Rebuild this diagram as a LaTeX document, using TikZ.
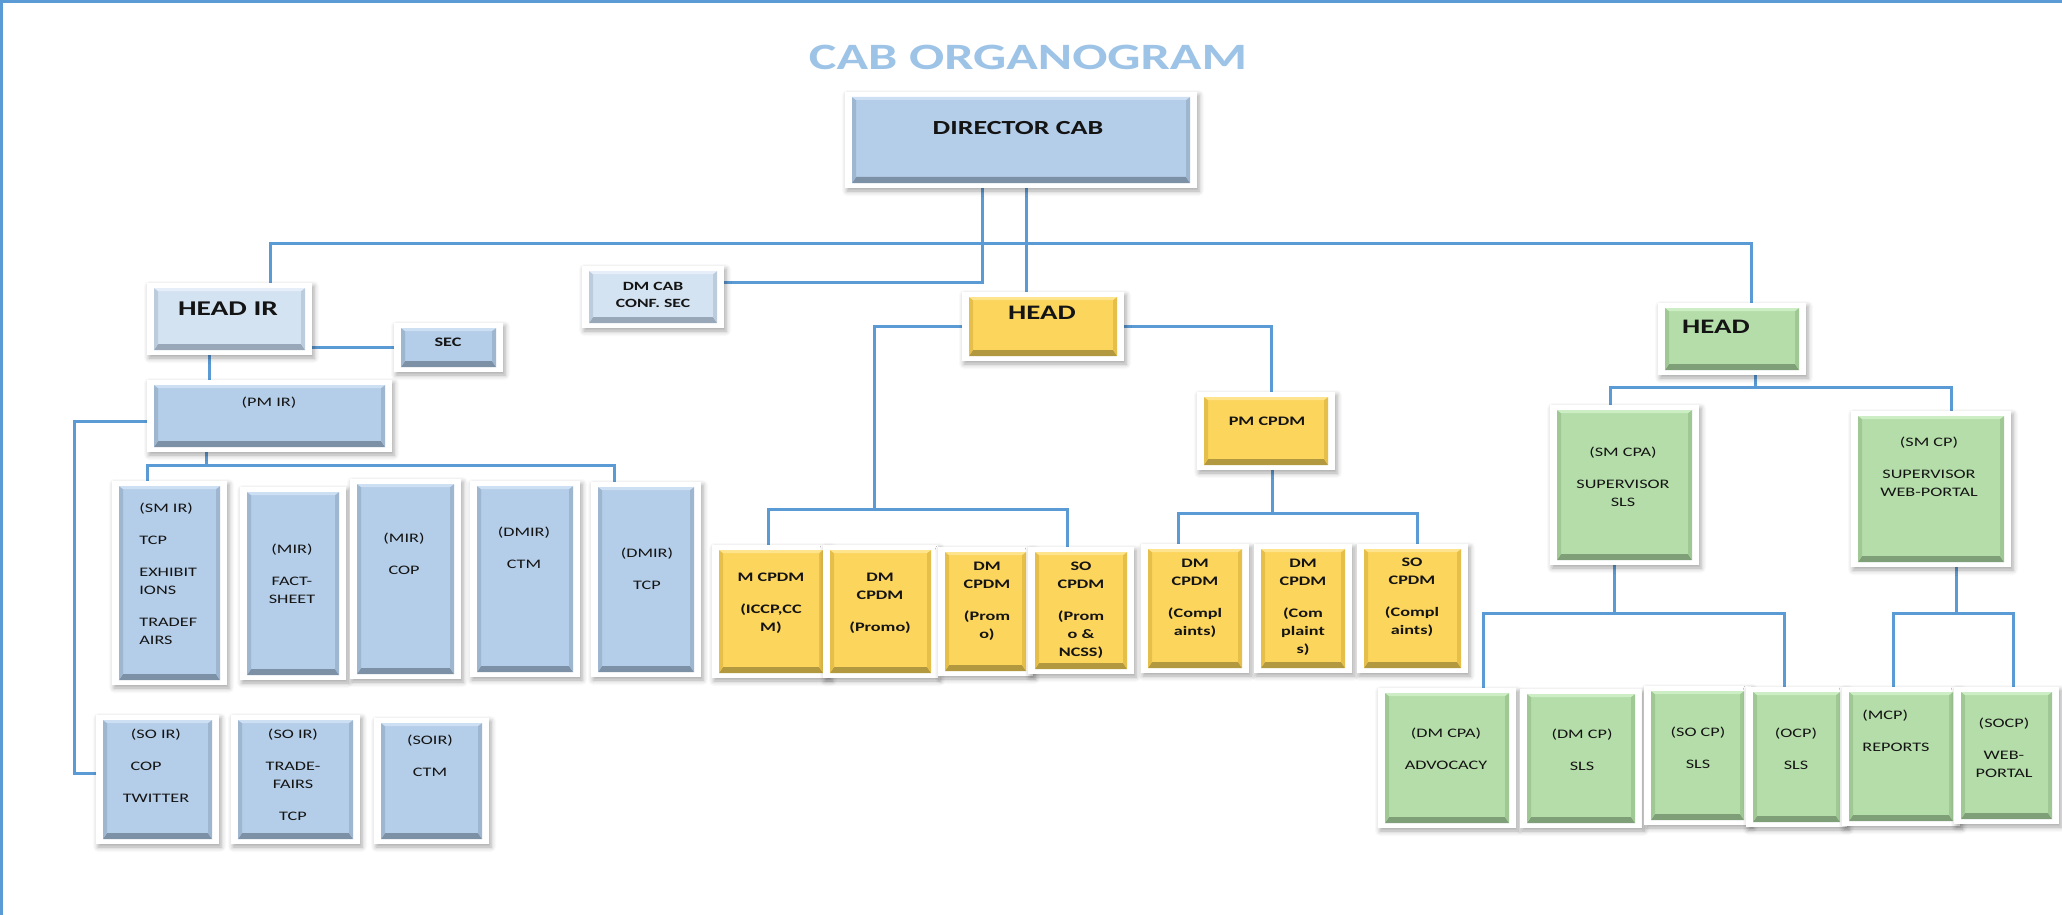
\documentclass[tikz,border=0pt]{standalone}
\usepackage{fontspec}
\setmainfont[FakeStretch=1.4]{Carlito}
\usetikzlibrary{shadows.blur}
\pgfdeclarelayer{bg}
\pgfsetlayers{bg,main}
\definecolor{conncol}{HTML}{5B9BD5}
\definecolor{titlecol}{HTML}{9DC3E6}
\definecolor{txtcol}{HTML}{141414}
\definecolor{bF}{HTML}{B4CDE8}\definecolor{bD}{HTML}{7D91A6}\definecolor{bS}{HTML}{9EB6CF}\definecolor{bL}{HTML}{CCDFF3}
\definecolor{lF}{HTML}{D4E3F2}\definecolor{lD}{HTML}{98A8B8}\definecolor{lS}{HTML}{BCCCDC}\definecolor{lL}{HTML}{E6EFF9}
\definecolor{yF}{HTML}{FCD55D}\definecolor{yD}{HTML}{B2983F}\definecolor{yS}{HTML}{E6BE4A}\definecolor{yL}{HTML}{FFE48E}
\definecolor{gF}{HTML}{B4DDA9}\definecolor{gD}{HTML}{7F9F78}\definecolor{gS}{HTML}{9FC895}\definecolor{gL}{HTML}{CDEEC4}
\newcommand\frst{\rule{0pt}{5pt}}
\newcommand\obox[6]{%
  \path[frame] ({#2-7},{#3-5}) rectangle ({#4+7},{#5+5});
  \node[#6, minimum width={(#4-#2)*0.5pt}, minimum height={(#5-#3)*0.5pt}] (#1) at ({(#2+#4)/2},{(#3+#5)/2}) {};
}
\tikzset{
  conn/.style={draw=conncol, line width=1.5pt},
  frame/.style={fill=white, blur shadow={shadow xshift=1pt, shadow yshift=-1.5pt, shadow blur radius=2.5pt, shadow opacity=35}},
  bevel/.style n args={3}{path picture={
    \fill[#1] (path picture bounding box.south west) -- (path picture bounding box.south east) -- ([xshift=-2pt,yshift=3pt]path picture bounding box.south east) -- ([xshift=2pt,yshift=3pt]path picture bounding box.south west) -- cycle;
    \fill[#2] (path picture bounding box.south west) -- ([xshift=2pt,yshift=3pt]path picture bounding box.south west) -- ([xshift=2pt,yshift=-1.5pt]path picture bounding box.north west) -- (path picture bounding box.north west) -- cycle;
    \fill[#2] (path picture bounding box.south east) -- ([xshift=-2pt,yshift=3pt]path picture bounding box.south east) -- ([xshift=-2pt,yshift=-1.5pt]path picture bounding box.north east) -- (path picture bounding box.north east) -- cycle;
    \fill[#3] (path picture bounding box.north west) -- (path picture bounding box.north east) -- ([xshift=-2pt,yshift=-1.5pt]path picture bounding box.north east) -- ([xshift=2pt,yshift=-1.5pt]path picture bounding box.north west) -- cycle;
  }},
  basebox/.style={rectangle, inner sep=0pt, outer sep=0pt},
  bluebox/.style={basebox, fill=bF, bevel={bD}{bS}{bL}},
  lbluebox/.style={basebox, fill=lF, bevel={lD}{lS}{lL}},
  yelbox/.style={basebox, fill=yF, bevel={yD}{yS}{yL}},
  grnbox/.style={basebox, fill=gF, bevel={gD}{gS}{gL}},
  stxt/.style={inner sep=0pt, align=center, anchor=north, text=txtcol, font=\fontsize{6.5}{9}\selectfont},
  sbtxt/.style={stxt, font=\fontsize{6.5}{9}\selectfont\bfseries},
  bigtxt/.style={inner sep=0pt, text=txtcol, font=\fontsize{10.3}{12}\selectfont\bfseries},
}
\begin{document}
\begin{tikzpicture}[x=0.5pt,y=-0.5pt]
\useasboundingbox (0,0) rectangle (2062,915);
\node[inner sep=0pt, text=titlecol, font=\fontsize{18.6}{22}\selectfont\bfseries] (title) at (1028,57) {CAB ORGANOGRAM};

% --- top
\obox{dir}{852}{97}{1190}{183}{bluebox}
\node[bigtxt, font=\fontsize{10}{12}\selectfont\bfseries] (tdir) at (1018,128) {DIRECTOR CAB};
\obox{dmcab}{589}{271}{717}{323}{lbluebox}
\node[sbtxt, font=\fontsize{6.3}{8.5}\selectfont\bfseries] (tdmcab) at (653,280) {\frst DM CAB\\CONF. SEC};

% --- IR (blue)
\obox{hir}{154}{288}{305}{350}{lbluebox}
\node[bigtxt, font=\fontsize{10.5}{12}\selectfont\bfseries] (thir) at (228,309) {HEAD IR};
\obox{sec}{401}{328}{496}{367}{bluebox}
\node[sbtxt] (tsec) at (448,336) {\frst SEC};
\obox{pmir}{154}{385}{385}{447}{bluebox}
\node[stxt] (tpmir) at (269,396) {\frst(PM IR)};

\obox{smir}{119}{486}{220}{680}{bluebox}
\node[stxt, align=left, anchor=north west] (tsmir) at (139,502) {\frst(SM IR)\\[7pt]TCP\\[7pt]EXHIBIT\\IONS\\[7pt]TRADEF\\AIRS};
\obox{mira}{247}{492}{339}{675}{bluebox}
\node[stxt] (tmira) at (292,543) {\frst(MIR)\\[7pt]FACT-\\SHEET};
\obox{mirb}{357}{484}{454}{674}{bluebox}
\node[stxt] (tmirb) at (404,532) {\frst(MIR)\\[7pt]COP};
\obox{dmira}{477}{486}{573}{672}{bluebox}
\node[stxt] (tdmira) at (524,526) {\frst(DMIR)\\[7pt]CTM};
\obox{dmirb}{598}{487}{694}{672}{bluebox}
\node[stxt] (tdmirb) at (647,547) {\frst(DMIR)\\[7pt]TCP};

\obox{soira}{103}{720}{212}{839}{bluebox}
\node[stxt] (tsoira) at (156,728) {\frst(SO IR)\\[7pt]COP\kern10pt\\[7pt]TWITTER};
\obox{soirb}{238}{720}{353}{839}{bluebox}
\node[stxt] (tsoirb) at (293,728) {\frst(SO IR)\\[7pt]TRADE-\\FAIRS\\[7pt]TCP};
\obox{soirc}{381}{723}{482}{839}{bluebox}
\node[stxt] (tsoirc) at (430,734) {\frst(SOIR)\\[7pt]CTM};

% --- CPDM (yellow)
\obox{yhead}{969}{297}{1117}{356}{yelbox}
\node[bigtxt] (tyhead) at (1042,313) {HEAD};
\obox{pmcpdm}{1204}{397}{1328}{465}{yelbox}
\node[sbtxt] (tpmcpdm) at (1267,415) {\frst PM CPDM};

\obox{ya}{719}{550}{823}{673}{yelbox}
\node[sbtxt] (tya) at (771,571) {\frst M CPDM\\[7pt](ICCP,CC\\M)};
\obox{yb}{830}{550}{931}{673}{yelbox}
\node[sbtxt] (tyb) at (880,571) {\frst DM\\CPDM\\[7pt](Promo)};
\obox{yc}{945}{552}{1026}{671}{yelbox}
\node[sbtxt] (tyc) at (987,560) {\frst DM\\CPDM\\[7pt](Prom\\o)};
\obox{yd}{1035}{552}{1127}{669}{yelbox}
\node[sbtxt] (tyd) at (1081,560) {\frst SO\\CPDM\\[7pt](Prom\\o \&\\NCSS)};
\obox{ye}{1148}{549}{1242}{668}{yelbox}
\node[sbtxt] (tye) at (1195,557) {\frst DM\\CPDM\\[7pt](Compl\\aints)};
\obox{yf}{1261}{549}{1345}{668}{yelbox}
\node[sbtxt] (tyf) at (1303,557) {\frst DM\\CPDM\\[7pt](Com\\plaint\\s)};
\obox{yg}{1364}{549}{1461}{668}{yelbox}
\node[sbtxt] (tyg) at (1412,556) {\frst SO\\CPDM\\[7pt](Compl\\aints)};

% --- CP (green)
\obox{ghead}{1665}{308}{1799}{370}{grnbox}
\node[bigtxt] (tghead) at (1716,327) {HEAD};
\obox{smcpa}{1557}{410}{1692}{560}{grnbox}
\node[stxt] (tsmcpa) at (1623,446) {\frst(SM CPA)\\[7pt]SUPERVISOR\\SLS};
\obox{smcp}{1858}{416}{2004}{562}{grnbox}
\node[stxt] (tsmcp) at (1929,436) {\frst(SM CP)\\[7pt]SUPERVISOR\\WEB-PORTAL};

\obox{ga}{1385}{693}{1509}{823}{grnbox}
\node[stxt] (tga) at (1446,727) {\frst(DM CPA)\\[7pt]ADVOCACY};
\obox{gb}{1527}{694}{1635}{823}{grnbox}
\node[stxt] (tgb) at (1582,728) {\frst(DM CP)\\[7pt]SLS};
\obox{gc}{1651}{691}{1744}{820}{grnbox}
\node[stxt] (tgc) at (1698,726) {\frst(SO CP)\\[7pt]SLS};
\obox{gd}{1753}{692}{1840}{822}{grnbox}
\node[stxt] (tgd) at (1796,727) {\frst(OCP)\\[7pt]SLS};
\obox{ge}{1849}{692}{1953}{821}{grnbox}
\node[stxt, align=left, anchor=north west] (tge) at (1862,709) {\frst(MCP)\\[7pt]REPORTS};
\obox{gf}{1961}{692}{2052}{819}{grnbox}
\node[stxt] (tgf) at (2004,717) {\frst(SOCP)\\[7pt]WEB-\\PORTAL};

% --- connectors
\begin{pgfonlayer}{bg}
\draw[conn] (dir.south -| 982,0) |- ([yshift=7.5pt]dmcab.east);
\draw[conn] (dir.south -| 1026,0) -- (yhead.north -| 1026,0);
\draw[conn] (hir.north -| 270,0) -- (270,243) -- (1751,243) -- (ghead.north -| 1751,0);
\draw[conn] (hir.east |- sec.west) -- (sec.west);
\draw[conn] (hir.south -| 209,0) -- (pmir.north -| 209,0);
\draw[conn] ([yshift=-2.5pt]pmir.west) -| (74,773) -- (soira.west |- 0,773);
\draw[conn] (pmir.south -| 206,0) -- (206,465);
\draw[conn] (smir.north -| 147,0) -- (147,465) -- (614,465) -- (dmirb.north -| 614,0);
\draw[conn] (yhead.west) -| (874,509);
\draw[conn] (ya.north -| 768,0) -- (768,509) -- (1067,509) -- (yd.north -| 1067,0);
\draw[conn] (yhead.east) -| (pmcpdm.north -| 1271,0);
\draw[conn] (pmcpdm.south -| 1272,0) -- (1272,513);
\draw[conn] (ye.north -| 1178,0) -- (1178,513) -- (1417,513) -- (yg.north -| 1417,0);
\draw[conn] (ghead.south -| 1755,0) -- (1755,387);
\draw[conn] (smcpa.north -| 1610,0) -- (1610,387) -- (1951,387) -- (smcp.north -| 1951,0);
\draw[conn] (smcpa.south -| 1614,0) -- (1614,613);
\draw[conn] (ga.north -| 1483,0) -- (1483,613) -- (1784,613) -- (gd.north -| 1784,0);
\draw[conn] (smcp.south -| 1956,0) -- (1956,613);
\draw[conn] (ge.north -| 1893,0) -- (1893,613) -- (2013,613) -- (gf.north -| 2013,0);
\end{pgfonlayer}

% page border (top and left)
\draw[conncol, line width=1.5pt] (2062,1.5) -- (1.5,1.5) -- (1.5,915);
\end{tikzpicture}
\end{document}
